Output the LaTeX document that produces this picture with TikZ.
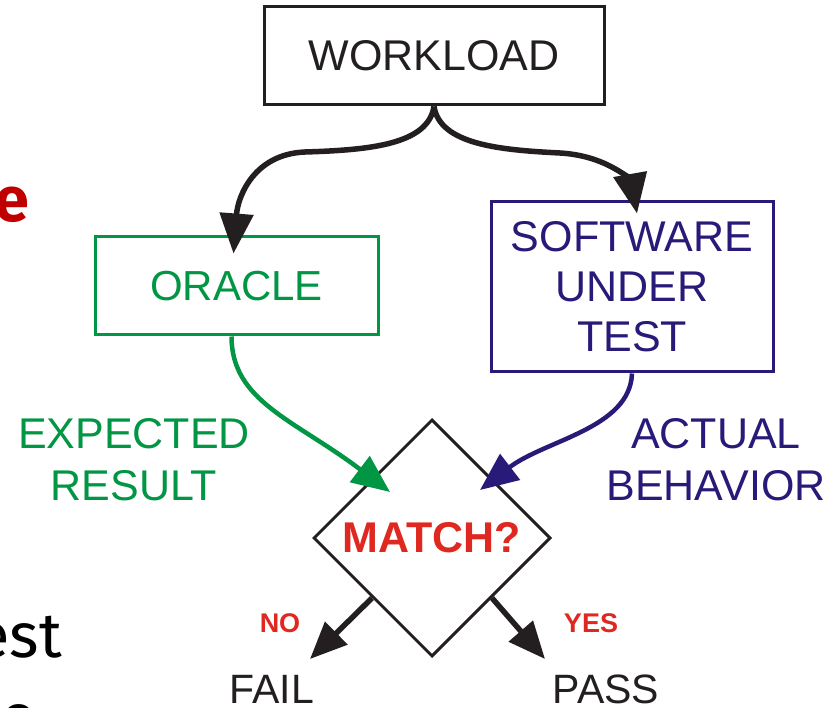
\documentclass[tikz,border=0pt]{standalone}
\usepackage{fontspec}
\setmainfont{Liberation Sans}
\newfontfamily\fragfont{Fira Sans}
\usetikzlibrary{arrows.meta,shapes.geometric,calc}
\definecolor{oragreen}{RGB}{0,150,68}
\definecolor{sutnavy}{RGB}{40,26,120}
\definecolor{matchred}{RGB}{222,40,32}
\definecolor{fragred}{RGB}{192,0,0}
\definecolor{arrowblack}{RGB}{35,31,32}
\begin{document}
\begin{tikzpicture}[x=1pt,y=-1pt,
  box/.style={draw, line width=3pt, inner sep=0pt, align=center},
  bigtext/.style={font=\fontsize{43}{50}\selectfont},
  labeltext/.style={font=\fontsize{43}{52}\selectfont, align=center, inner sep=0pt},
  flow/.style={line width=5.5pt, arrowblack, -{Triangle[length=40pt,width=33pt]}},
  resultflow/.style={line width=4.5pt, -{Triangle[length=38pt,width=32pt]}},
  decision/.style={line width=5.5pt, arrowblack, -{Triangle[length=37pt,width=31pt]}},
  smalllabel/.style={font=\fontsize{27}{30}\selectfont\bfseries, text=matchred, inner sep=0pt},
  endtext/.style={font=\fontsize{41}{45}\selectfont, text=arrowblack, inner sep=0pt, anchor=base},
  frag/.style={font=\fontsize{63}{70}\fragfont, inner sep=0pt}
 ]
\useasboundingbox (0,0) rectangle (835,708);
\clip (0,0) rectangle (835,708);
\fill[white] (0,0) rectangle (835,708);

% fragments of surrounding slide text
\node[frag, text=fragred, anchor=base east] (frage) at (29,222) {\bfseries e};
\node[frag, text=black, anchor=base east] (fragest) at (62,657) {est};
\node[frag, text=black, anchor=base west] (fragc) at (0,738) {o};

% boxes
\node[box, bigtext, arrowblack, minimum width=340, minimum height=98] (wl) at (434,56) {WORKLOAD};
\node[box, font=\fontsize{42}{50}\selectfont, draw=oragreen, text=oragreen, minimum width=283, minimum height=98] (orc) at (236.5,286) {ORACLE};
\node[box, bigtext, draw=sutnavy, text=sutnavy, minimum width=282, minimum height=170] (sut) at (632,287) {SOFTWARE\\UNDER\\TEST};

% decision diamond
\node[draw=arrowblack, line width=3pt, diamond, aspect=1, inner sep=0pt, minimum width=237, minimum height=237,
      font=\fontsize{43}{50}\selectfont\bfseries, text=matchred] (m) at (432,538) {MATCH?};

% side labels
\node[labeltext, text=oragreen] (exp) at (134,460) {EXPECTED\\RESULT};
\node[labeltext, text=sutnavy] (act) at (716,460) {ACTUAL\\BEHAVIOR};

% outcome labels
\node[smalllabel] (no) at (280,623) {NO};
\node[smalllabel] (yes) at (591,623) {YES};
\node[endtext] (fail) at (272,703) {FAIL};
\node[endtext] (pass) at (606,703) {PASS};

\coordinate (failtip) at (310,659);
\coordinate (passtip) at (545,659);

% workload to oracle / software
\draw[flow] (wl.south) .. controls ($(wl.south)+(-6,38)$) and (370,150) .. (305,152)
  .. controls (255,154) and (238,195) .. ($(orc.north)+(-3,18)$);
\draw[flow] (wl.south) .. controls ($(wl.south)+(6,38)$) and (500,150) .. (560,153)
  .. controls (612,156) and (632,185) .. ($(sut.north)+(5,13)$);

% results to match
\draw[resultflow, oragreen] ($(orc.south)+(-5,0)$) .. controls ($(orc.south)+(-5,65)$) and (295,420) .. ($(m.center)+(-42,-46)$);
\draw[resultflow, sutnavy] (sut.south) .. controls ($(sut.south)+(-2,55)$) and (545,440) .. ($(m.center)+(48,-48)$);

% decisions
\draw[decision] ($(m.west)!0.5!(m.south)$) -- (failtip);
\draw[decision] ($(m.east)!0.5!(m.south)$) -- (passtip);
\end{tikzpicture}
\end{document}
